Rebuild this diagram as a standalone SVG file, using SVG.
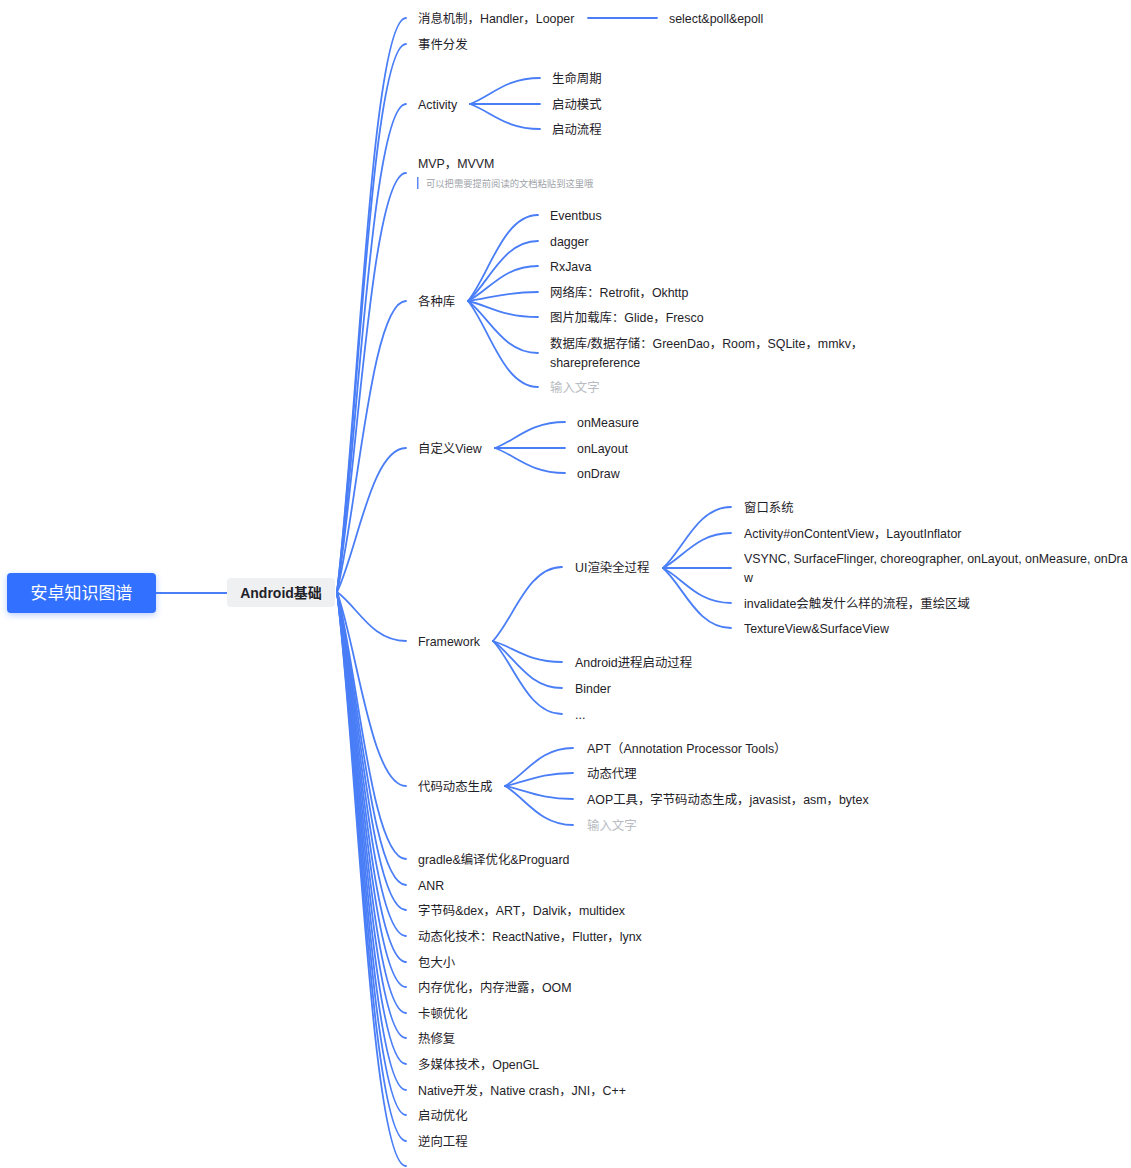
<svg xmlns="http://www.w3.org/2000/svg" width="1131" height="1168" viewBox="0 0 1131 1168">
<style>
text{font-family:"Liberation Sans","Noto Sans CJK SC",sans-serif;font-size:12.4px;fill:#1f2329}
.ph{fill:#b8bcc2}
.note{font-size:9.3px;fill:#a0a4aa}
.root{font-size:17px;fill:#ffffff;text-anchor:middle}
.l1{font-size:14px;font-weight:bold;text-anchor:middle}
.c{fill:none;stroke:#4a7ef7;stroke-width:1.8;stroke-linecap:round}
</style>
<defs>
<filter id="sh" x="-20%" y="-40%" width="140%" height="180%">
<feDropShadow dx="0" dy="2" stdDeviation="3" flood-color="#3370ff" flood-opacity="0.35"/>
</filter>
</defs>
<rect width="1131" height="1168" fill="#ffffff"/>
<g id="connectors">
<line class="c" x1="156" y1="593" x2="227" y2="593"/>
<path class="c" d="M337 592C357.7 419.8 371.5 18 406 18"/>
<path class="c" d="M337 592C357.7 427.6 371.5 44 406 44"/>
<path class="c" d="M337 592C357.7 445.6 371.5 104 406 104"/>
<path class="c" d="M337 592C357.7 466.3 371.5 173 406 173"/>
<path class="c" d="M337 592C357.7 504.7 371.5 301 406 301"/>
<path class="c" d="M337 592C357.7 548.8 371.5 448 406 448"/>
<path class="c" d="M337 592C357.7 606.7 371.5 641 406 641"/>
<path class="c" d="M337 592C357.7 650.2 371.5 786 406 786"/>
<path class="c" d="M337 592C357.7 672.1 371.5 859 406 859"/>
<path class="c" d="M337 592C357.7 679.9 371.5 885 406 885"/>
<path class="c" d="M337 592C357.7 687.4 371.5 910 406 910"/>
<path class="c" d="M337 592C357.7 695.2 371.5 936 406 936"/>
<path class="c" d="M337 592C357.7 703 371.5 962 406 962"/>
<path class="c" d="M337 592C357.7 710.5 371.5 987 406 987"/>
<path class="c" d="M337 592C357.7 718.3 371.5 1013 406 1013"/>
<path class="c" d="M337 592C357.7 725.8 371.5 1038 406 1038"/>
<path class="c" d="M337 592C357.7 733.6 371.5 1064 406 1064"/>
<path class="c" d="M337 592C357.7 741.4 371.5 1090 406 1090"/>
<path class="c" d="M337 592C357.7 748.9 371.5 1115 406 1115"/>
<path class="c" d="M337 592C357.7 756.7 371.5 1141 406 1141"/>
<path class="c" d="M337 592C357.7 764.2 371.5 1166 406 1166"/>
<line class="c" x1="588" y1="18" x2="657" y2="18"/>
<path class="c" d="M470 104C491 96.2 505 78 540 78"/>
<line class="c" x1="470" y1="104" x2="540" y2="104"/>
<path class="c" d="M470 104C491 111.5 505 129 540 129"/>
<path class="c" d="M468 301C489 275.2 503 215 538 215"/>
<path class="c" d="M468 301C489 283 503 241 538 241"/>
<path class="c" d="M468 301C489 290.5 503 266 538 266"/>
<path class="c" d="M468 301C489 298.3 503 292 538 292"/>
<path class="c" d="M468 301C489 305.8 503 317 538 317"/>
<path class="c" d="M468 301C489 316.6 503 353 538 353"/>
<path class="c" d="M468 301C489 326.8 503 387 538 387"/>
<path class="c" d="M495 448C516 440.2 530 422 565 422"/>
<line class="c" x1="495" y1="448" x2="565" y2="448"/>
<path class="c" d="M495 448C516 455.5 530 473 565 473"/>
<path class="c" d="M493 641C513.7 618.8 527.5 567 562 567"/>
<path class="c" d="M493 641C513.7 647.3 527.5 662 562 662"/>
<path class="c" d="M493 641C513.7 655.1 527.5 688 562 688"/>
<path class="c" d="M493 641C513.7 662.9 527.5 714 562 714"/>
<path class="c" d="M663 568C683.4 549.7 697 507 731 507"/>
<path class="c" d="M663 568C683.4 557.5 697 533 731 533"/>
<line class="c" x1="663" y1="568" x2="731" y2="568"/>
<path class="c" d="M663 568C683.4 578.5 697 603 731 603"/>
<path class="c" d="M663 568C683.4 586 697 628 731 628"/>
<path class="c" d="M505 786C525.4 774.6 539 748 573 748"/>
<path class="c" d="M505 786C525.4 782.1 539 773 573 773"/>
<path class="c" d="M505 786C525.4 789.9 539 799 573 799"/>
<path class="c" d="M505 786C525.4 797.7 539 825 573 825"/>
</g>
<g id="root">
<rect x="7" y="573" width="149" height="40" rx="4" fill="#3370ff" filter="url(#sh)"/>
<text class="root" x="81.5" y="599">安卓知识图谱</text>
</g>
<g id="android">
<rect x="227" y="578" width="108" height="29" rx="4" fill="#eff0f1"/>
<text class="l1" x="281" y="597.5">Android基础</text>
</g>
<g id="n-msg"><text x="418" y="23.2">消息机制，Handler，Looper</text></g>
<g id="n-select"><text x="669" y="23.2">select&amp;poll&amp;epoll</text></g>
<g id="n-event"><text x="418" y="49.2">事件分发</text></g>
<g id="n-activity"><text x="418" y="109.2">Activity</text></g>
<g id="n-life"><text x="552" y="83.2">生命周期</text></g>
<g id="n-mode"><text x="552" y="109.2">启动模式</text></g>
<g id="n-flow"><text x="552" y="134.2">启动流程</text></g>
<g id="n-mvp">
<text x="418" y="168.2">MVP，MVVM</text>
<rect x="417" y="177" width="1.5" height="12" fill="#5b8af8"/>
<text class="note" x="426" y="186.8">可以把需要提前阅读的文档粘贴到这里哦</text>
</g>
<g id="n-libs"><text x="418" y="306.2">各种库</text></g>
<g id="n-eventbus"><text x="550" y="220.2">Eventbus</text></g>
<g id="n-dagger"><text x="550" y="246.2">dagger</text></g>
<g id="n-rxjava"><text x="550" y="271.2">RxJava</text></g>
<g id="n-net"><text x="550" y="297.2">网络库：Retrofit，Okhttp</text></g>
<g id="n-img"><text x="550" y="322.2">图片加载库：Glide，Fresco</text></g>
<g id="n-db"><text x="550" y="348.2">数据库/数据存储：GreenDao，Room，SQLite，mmkv，</text><text x="550" y="367.2">sharepreference</text></g>
<g id="n-ph1"><text class="ph" x="550" y="392.2">输入文字</text></g>
<g id="n-customview"><text x="418" y="453.2">自定义View</text></g>
<g id="n-measure"><text x="577" y="427.2">onMeasure</text></g>
<g id="n-layout"><text x="577" y="453.2">onLayout</text></g>
<g id="n-draw"><text x="577" y="478.2">onDraw</text></g>
<g id="n-framework"><text x="418" y="646.2">Framework</text></g>
<g id="n-ui"><text x="575" y="572.2">UI渲染全过程</text></g>
<g id="n-window"><text x="744" y="512.2">窗口系统</text></g>
<g id="n-content"><text x="744" y="538.2">Activity#onContentView，LayoutInflator</text></g>
<g id="n-vsync"><text x="744" y="563.2">VSYNC, SurfaceFlinger, choreographer, onLayout, onMeasure, onDra</text><text x="744" y="582.2">w</text></g>
<g id="n-invalidate"><text x="744" y="608.2">invalidate会触发什么样的流程，重绘区域</text></g>
<g id="n-texture"><text x="744" y="633.2">TextureView&amp;SurfaceView</text></g>
<g id="n-process"><text x="575" y="667.2">Android进程启动过程</text></g>
<g id="n-binder"><text x="575" y="693.2">Binder</text></g>
<g id="n-more"><text x="575" y="719.2">...</text></g>
<g id="n-codegen"><text x="418" y="791.2">代码动态生成</text></g>
<g id="n-apt"><text x="587" y="753.2">APT（Annotation Processor Tools）</text></g>
<g id="n-proxy"><text x="587" y="778.2">动态代理</text></g>
<g id="n-aop"><text x="587" y="804.2">AOP工具，字节码动态生成，javasist，asm，bytex</text></g>
<g id="n-ph2"><text class="ph" x="587" y="830.2">输入文字</text></g>
<g id="n-gradle"><text x="418" y="864.2">gradle&amp;编译优化&amp;Proguard</text></g>
<g id="n-anr"><text x="418" y="890.2">ANR</text></g>
<g id="n-dex"><text x="418" y="915.2">字节码&amp;dex，ART，Dalvik，multidex</text></g>
<g id="n-dynamic"><text x="418" y="941.2">动态化技术：ReactNative，Flutter，lynx</text></g>
<g id="n-size"><text x="418" y="967.2">包大小</text></g>
<g id="n-mem"><text x="418" y="992.2">内存优化，内存泄露，OOM</text></g>
<g id="n-jank"><text x="418" y="1018.2">卡顿优化</text></g>
<g id="n-hotfix"><text x="418" y="1043.2">热修复</text></g>
<g id="n-media"><text x="418" y="1069.2">多媒体技术，OpenGL</text></g>
<g id="n-native"><text x="418" y="1095.2">Native开发，Native crash，JNI，C++</text></g>
<g id="n-startup"><text x="418" y="1120.2">启动优化</text></g>
<g id="n-reverse"><text x="418" y="1146.2">逆向工程</text></g>
</svg>
